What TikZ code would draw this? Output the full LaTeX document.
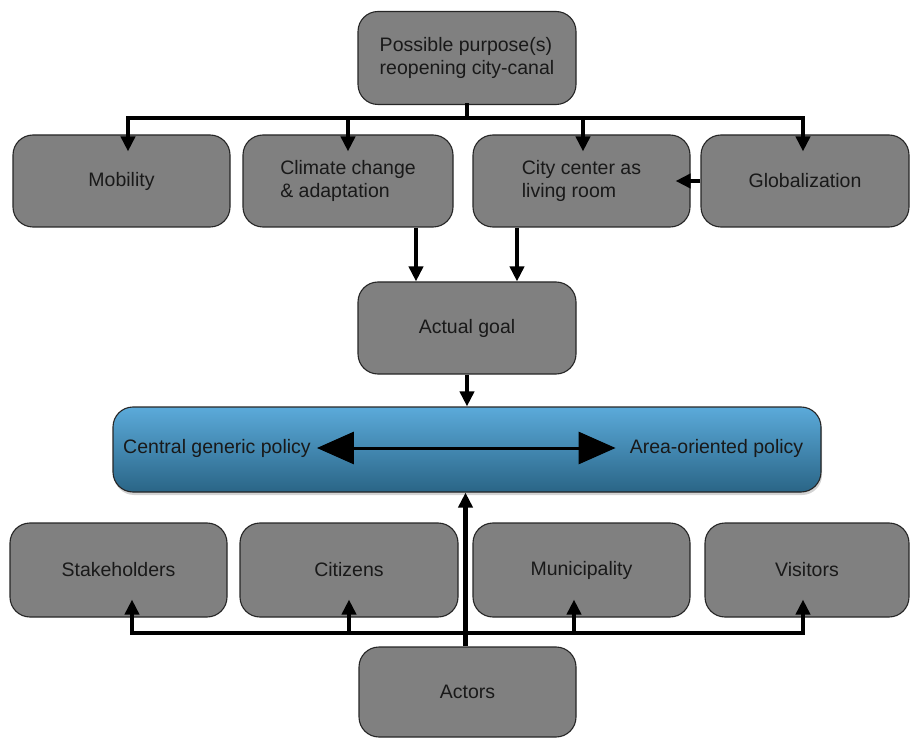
\documentclass[tikz,border=0pt]{standalone}
\usepackage{fontspec}
\setmainfont{Liberation Sans}
\usepackage{xcolor}
\usepackage{tikz}
\usetikzlibrary{arrows.meta,shadows}

\definecolor{boxgray}{HTML}{808080}
\definecolor{blueTop}{HTML}{5BAADA}
\definecolor{blueBot}{HTML}{2A6586}

\tikzset{
    box/.style={draw=black!85, fill=boxgray, line width=1.1pt, rounded corners=20pt,
        inner sep=0pt, align=left, text=black!90, font=\fontsize{19.5}{23}\selectfont},
    bluebox/.style={box, fill=none, top color=blueTop, bottom color=blueBot,
        drop shadow={opacity=0.35, shadow xshift=1pt, shadow yshift=-3pt}},
    conn/.style={line width=4.5pt, line cap=rect},
    arr/.style={line width=4.5pt, -{Triangle[length=15pt,width=14pt]}},
    dblarr/.style={line width=3pt, {Triangle[length=37pt,width=32pt]}-{Triangle[length=37pt,width=32pt]}},
    lbl/.style={inner sep=0pt, text=black!90, font=\fontsize{19.5}{23}\selectfont}
}

\begin{document}
\begin{tikzpicture}[x=1pt, y=-1pt]
    \useasboundingbox (0,0) rectangle (911,738);

    % purposes
    \node[box, minimum width=218pt, minimum height=93pt] (purpose) at (467,58) {Possible purpose(s)\\reopening city-canal};
    \node[box, minimum width=217pt, minimum height=92pt] (mob) at (121.5,181) {Mobility};
    \node[box, minimum width=210pt, minimum height=92pt] (clim) at (348,181) {Climate change\\\& adaptation};
    \node[box, minimum width=217pt, minimum height=92pt] (city) at (581.5,181) {City center as\\living room};
    \node[box, minimum width=208pt, minimum height=92pt] (glob) at (805,181) {Globalization};

    \node[box, minimum width=218pt, minimum height=92pt] (goal) at (467,328) {Actual goal};

    % policy
    \node[bluebox, minimum width=708pt, minimum height=85pt] (policy) at (467,449.5) {};
    \node[lbl] (cgp) at (217,448) {Central generic policy};
    \node[lbl] (aop) at (716.5,448) {Area-oriented policy};

    % actors
    \node[box, minimum width=217pt, minimum height=94pt] (stake) at (118.5,570) {Stakeholders};
    \node[box, minimum width=218pt, minimum height=94pt] (citi) at (349,570) {Citizens};
    \node[box, minimum width=217pt, minimum height=94pt] (muni) at (581.5,570) {Municipality};
    \node[box, minimum width=204pt, minimum height=94pt] (visit) at (807,570) {Visitors};
    \node[box, minimum width=217pt, minimum height=90pt] (actors) at (467.5,692) {Actors};

    \coordinate (tbar) at (0,118);
    \coordinate (bbar) at (0,633);

    \draw[conn] (purpose.south) -- (purpose.south |- tbar);
    \draw[conn] ([xshift=6.5pt]mob.north |- tbar) -- ([xshift=-2pt]glob.north |- tbar);
    \foreach \n/\dx in {mob/6.5, clim/0, city/1.5, glob/-2}
        \draw[arr] ([xshift=\dx pt]\n.north |- tbar) -- ([xshift=\dx pt, yshift=-17pt]\n.north);

    \draw[arr] (glob.west) -- ([xshift=-15pt]city.east);
    \draw[arr] ([xshift=-51pt]goal.north |- clim.south) -- ([xshift=-51pt]goal.north);
    \draw[arr] ([xshift=50pt]goal.north |- city.south) -- ([xshift=50pt]goal.north);
    \draw[arr] (goal.south) -- (policy.north);

    \draw[dblarr, shorten <=6pt, shorten >=14pt] (cgp.east) -- (aop.west);

    \draw[conn] ([xshift=13.5pt]stake.south |- bbar) -- ([xshift=-4pt]visit.south |- bbar);
    \foreach \n/\dx in {stake/13.5, citi/0, muni/-7.5, visit/-4}
        \draw[arr] ([xshift=\dx pt]\n.south |- bbar) -- ([xshift=\dx pt, yshift=18pt]\n.south);
    \draw[arr] ([xshift=-2pt]actors.north) -- ([xshift=-2pt]actors.north |- policy.south);
\end{tikzpicture}
\end{document}
